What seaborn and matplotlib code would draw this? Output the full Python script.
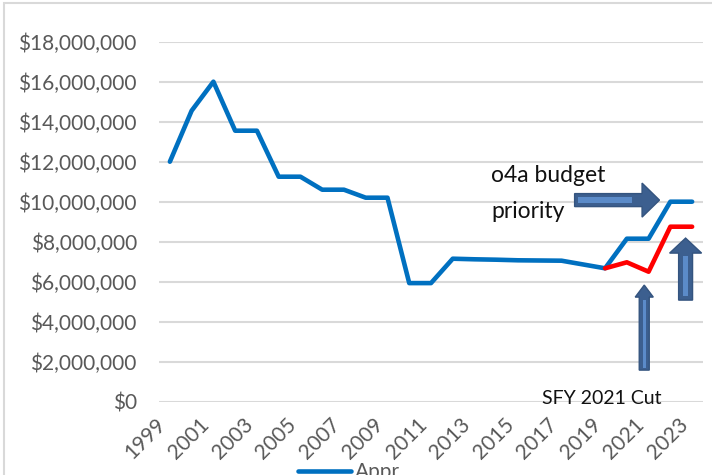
import matplotlib
matplotlib.use('Agg')
import matplotlib.pyplot as plt
import seaborn as sns
from matplotlib.patches import FancyArrow, Rectangle
from matplotlib.lines import Line2D
from matplotlib.ticker import FuncFormatter

# Appropriation by state fiscal year
years = list(range(1999, 2024))
appropriation = [12.0, 14.55, 16.0, 13.55, 13.55, 11.25, 11.25, 10.6, 10.6, 10.2,
                 10.2, 5.93, 5.93, 7.15, 7.12, 7.1, 7.07, 7.06, 7.05, 6.86,
                 6.67, 8.15, 8.15, 10.0, 10.0]
cut_years = [2019, 2020, 2021, 2022, 2023]
after_cut = [6.67, 6.97, 6.5, 8.75, 8.75]
xtick_years = list(range(1999, 2024, 2))

appropriation = [v * 1e6 for v in appropriation]
after_cut = [v * 1e6 for v in after_cut]

sns.set_style('white')
plt.rcParams['font.family'] = ['Lato', 'DejaVu Sans']

fig = plt.figure(figsize=(7.12, 4.75), dpi=100)
ax = fig.add_axes([159 / 712, 1 - 401.7 / 475, (703 - 159) / 712, (401.7 - 41.7) / 475])

sns.lineplot(x=years, y=appropriation, ax=ax, color='#0070C0', linewidth=3.3, zorder=3)
sns.lineplot(x=cut_years, y=after_cut, ax=ax, color='#FF0000', linewidth=3.3, zorder=4)

ax.set_xlim(1998.5, 2023.5)
ax.set_ylim(0, 18e6)
ax.set_yticks([i * 2e6 for i in range(10)])
ax.yaxis.set_major_formatter(FuncFormatter(lambda v, p: f'${v:,.0f}'))
ax.set_xticks(xtick_years)
ax.set_xticklabels([str(y) for y in xtick_years], rotation=45, ha='right', va='top')
ax.tick_params(axis='y', length=0, pad=16, labelsize=15, labelcolor='#595959')
ax.tick_params(axis='x', length=0, pad=9, labelsize=15, labelcolor='#595959')
ax.grid(axis='y', color='#D9D9D9', linewidth=1.5)
ax.set_axisbelow(True)
for s in ax.spines.values():
    s.set_visible(False)
ax.set_xlabel('')
ax.set_ylabel('')


def block_arrow(x, y, dx, dy, width, head_width, head_length, inner):
    arr = FancyArrow(x, y, dx, dy, width=width, head_width=head_width,
                     head_length=head_length, length_includes_head=True,
                     facecolor='#3C5F8F', edgecolor='#34547F', linewidth=1, zorder=6)
    ax.add_patch(arr)
    ax.add_patch(Rectangle(inner[0], inner[1], inner[2], facecolor='#5B8BC9',
                           edgecolor='none', zorder=7))


# horizontal arrow to budget priority
block_arrow(2017.6, 10.08e6, 3.9, 0, 0.65e6, 1.7e6, 0.8,
            ((2017.75, 9.93e6), 2.5, 0.3e6))
# SFY 2021 cut arrow
block_arrow(2020.8, 1.58e6, 0, 4.25e6, 0.46, 0.83, 0.6e6,
            ((2020.72, 1.7e6), 0.16, 3.4e6))
# right arrow
block_arrow(2022.7, 5.08e6, 0, 3.1e6, 0.64, 1.47, 0.75e6,
            ((2022.6, 5.3e6), 0.22, 2.0e6))

ax.text(2013.78, 10.97e6, 'o4a budget', fontsize=16.5, color='#111111',
        va='baseline', ha='left', zorder=8)
ax.text(2013.78, 9.17e6, 'priority', fontsize=16.5, color='#111111',
        va='baseline', ha='left', zorder=8)
fig.text(602 / 712, 1 - 399 / 475, 'SFY 2021 Cut', fontsize=14, color='#111111',
         ha='center', va='center')

# legend at the bottom, cut off by the chart edge
leg = fig.legend(handles=[Line2D([], [], color='#0070C0', linewidth=3.3)],
                 labels=['Appr…'], loc='center left',
                 bbox_to_anchor=(288 / 712, 1 - 472 / 475), frameon=False,
                 fontsize=15, handlelength=2.5, handletextpad=0.2,
                 labelcolor='#595959', borderpad=0)

# chart border
fig.add_artist(Rectangle((4 / 712, -0.1), 1.2, 1.1 - 3.5 / 475, transform=fig.transFigure,
                         facecolor='none', edgecolor='#D9D9D9', linewidth=1.5))

fig.savefig('out.png', dpi=100)
